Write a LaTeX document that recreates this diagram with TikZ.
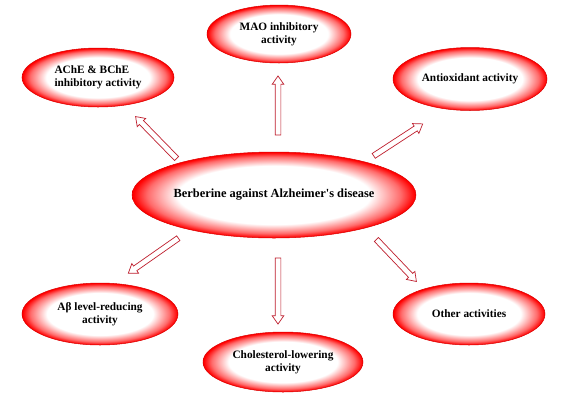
\documentclass[tikz,border=0pt]{standalone}
\usepackage{fontspec}
\setmainfont{Liberation Serif}
\usetikzlibrary{shapes.geometric,shapes.arrows}
\pgfdeclareradialshading{redring}{\pgfpointorigin}{color(0bp)=(white); color(17bp)=(white); color(22.3bp)=(red!58); color(24.8bp)=(red); color(50bp)=(red)}
\definecolor{arrred}{RGB}{190,30,45}
\begin{document}
\begin{tikzpicture}[x=1pt,y=-1pt,
  bubble/.style={ellipse, shading=redring, draw=red!85!black, line width=0.5pt, inner sep=0pt, font=\fontsize{11.3}{13}\selectfont\bfseries, align=center},
  arr/.style={single arrow, draw=arrred, fill=white, line width=0.7pt, inner xsep=0pt, inner ysep=2.5pt, single arrow head extend=3pt, single arrow tip angle=70, sloped, allow upside down, midway}]
\useasboundingbox (0,0) rectangle (568,400);
\fill[white] (0,0) rectangle (568,400);
% ellipses
\node[bubble, minimum width=214pt, minimum height=86pt, font=\fontsize{12.4}{14}\selectfont\bfseries] (main) at (274,195) {Berberine against Alzheimer\textquotesingle s disease};
\node[bubble, minimum width=152pt, minimum height=59pt, align=left] (ache) at (98,77.5) {AChE \& BChE\\inhibitory activity};
\node[bubble, minimum width=144pt, minimum height=58pt] (mao) at (279,34) {MAO inhibitory\\activity};
\node[bubble, minimum width=154pt, minimum height=63pt] (anti) at (470,79) {Antioxidant activity};
\node[bubble, minimum width=152pt, minimum height=62pt] (other) at (469,314) {Other activities};
\node[bubble, minimum width=160pt, minimum height=60pt] (chol) at (283,362) {Cholesterol-lowering\\activity};
\node[bubble, minimum width=156pt, minimum height=62pt] (abeta) at (100,314) {Aβ level-reducing\\activity};
% arrow ends
\coordinate (t1) at (178,160); \coordinate (h1) at (137,118);
\coordinate (t2) at (278,137); \coordinate (h2) at (278,78);
\coordinate (t3) at (372,157); \coordinate (h3) at (421,125);
\coordinate (t4) at (375,238); \coordinate (h4) at (415,280);
\coordinate (t5) at (278,256); \coordinate (h5) at (278,322);
\coordinate (t6) at (180,237); \coordinate (h6) at (130,272);
\path (t1) -- (h1) node[arr, minimum height=58.7pt] (a1) {};
\path (t2) -- (h2) node[arr, minimum height=59pt] (a2) {};
\path (t3) -- (h3) node[arr, minimum height=58.5pt] (a3) {};
\path (t4) -- (h4) node[arr, minimum height=58pt] (a4) {};
\path (t5) -- (h5) node[arr, minimum height=66pt] (a5) {};
\path (t6) -- (h6) node[arr, minimum height=61pt] (a6) {};
\end{tikzpicture}
\end{document}
